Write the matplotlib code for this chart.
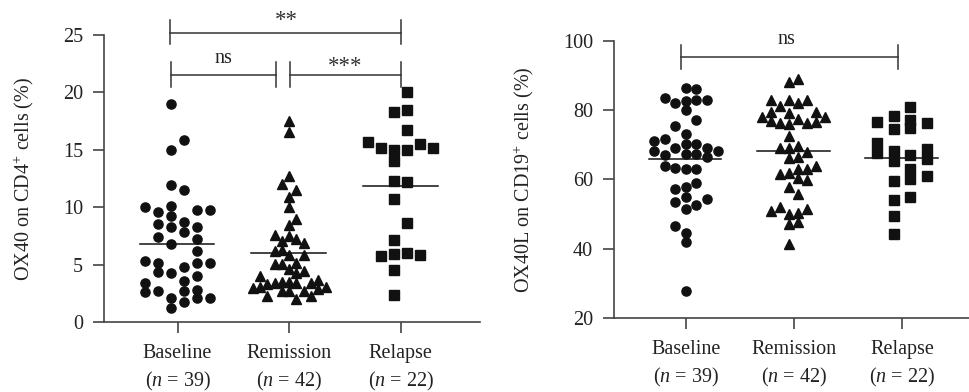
import numpy as np
import matplotlib
matplotlib.use("Agg")
import matplotlib.pyplot as plt

plt.rcParams['font.family'] = 'Liberation Serif'
plt.rcParams['mathtext.fontset'] = 'custom'
plt.rcParams['mathtext.rm'] = 'Liberation Serif'
plt.rcParams['mathtext.it'] = 'Liberation Serif:italic'

groups = ["Baseline", "Remission", "Relapse"]
group_n = [39, 42, 22]

# OX40 on CD4+ cells (%)
ox40_baseline = [19.0, 15.87, 14.97, 11.97, 11.5, 10.03, 10.08, 9.56, 9.73, 9.76,
                 9.27, 8.51, 8.31, 8.75, 7.85, 8.25, 7.38, 7.27, 6.8, 6.16,
                 5.32, 5.17, 5.14, 5.14, 4.77, 4.33, 4.3, 3.98, 3.57, 3.43,
                 2.62, 2.73, 2.7, 2.82, 2.06, 1.77, 2.06, 2.09, 1.19]
ox40_remission = [17.55, 16.6, 12.76, 12.0, 11.5, 10.93, 10.03, 9.01, 8.43, 7.61,
                  7.5, 7.09, 7.24, 6.86, 6.22, 6.28, 5.84, 5.84, 5.06, 5.06,
                  5.17, 4.62, 4.47, 4.24, 4.01, 3.0, 3.02, 3.28, 3.43, 3.52,
                  3.52, 3.37, 3.37, 3.66, 3.02, 2.85, 2.3, 2.7, 2.7, 2.7,
                  2.3, 2.0]
ox40_relapse = [20.03, 18.28, 18.45, 16.74, 15.69, 15.17, 15.0, 15.0, 15.49, 15.17,
                14.01, 12.32, 12.18, 10.7, 8.6, 7.15, 5.75, 5.9, 6.02, 5.81,
                4.53, 2.35]

# OX40L on CD19+ cells (%)
ox40l_baseline = [86.2, 86.0, 83.5, 81.9, 82.5, 82.9, 82.9, 79.9, 77.0, 75.4,
                  73.2, 71.7, 71.0, 70.2, 70.2, 68.9, 69.0, 68.1, 68.1, 67.0,
                  67.2, 67.2, 66.4, 63.9, 63.2, 63.0, 63.0, 59.0, 57.1, 57.8,
                  53.4, 55.0, 52.6, 54.4, 51.4, 46.5, 44.5, 41.9, 27.8]
ox40l_remission = [88.0, 88.85, 82.89, 82.89, 82.89, 81.26, 81.93, 79.52, 79.04, 79.33,
                   77.89, 77.31, 77.89, 76.83, 76.16, 75.87, 76.35, 76.54, 72.41, 69.14,
                   69.04, 69.71, 67.79, 66.25, 66.45, 63.85, 63.08, 62.89, 61.73, 61.45,
                   60.29, 59.81, 57.79, 55.77, 50.96, 52.02, 51.54, 49.9, 50.39, 47.02,
                   47.69, 41.44]
ox40l_relapse = [76.54, 70.39, 67.5, 78.27, 74.43, 68.08, 65.29, 59.43, 54.04, 49.33,
                 44.14, 80.78, 77.12, 74.72, 67.02, 62.89, 60.0, 54.9, 76.35, 68.66,
                 65.87, 60.87]

# swarm columns (layout only)
cols_l_base = [-1, 1, -1, -1, 1, -5, -1, -3, 3, 5, -1, -3, -1, 1, 1, 3, -3, 3, -1, 3,
               -5, -3, 3, 5, 1, -3, -1, 3, 1, -5, -5, -3, 1, 3, -1, 1, 3, 5, -1]
cols_l_rem = [0, 0, 0, -1, 1, 0, 0, 1, 0, -2, 0, -1, 1, 2, -2, -1, 0, 2, -2, -1,
              1, 0, 2, 1, -4, -5, -4, -3, -2, -1, 0, 1, 3, 4, 5, 4, -3, -1, 0, 2,
              3, 1]
cols_l_rel = [1, -1, 1, 1, -5, -3, -1, 1, 3, 5, -1, -1, 1, -1, 1, -1, -3, -1, 1, 3,
              -1, -1]
cols_r_base = [0, 1, -2, -1, 0, 1, 2, 0, 1, -1, 0, -2, -3, 0, 1, -1, 2, -3, 3, -2,
               0, 1, 2, -2, -1, 0, 1, 1, -1, 0, -1, 0, 1, 2, 0, -1, 0, 0, 0]
cols_r_rem = [-1, 1, -5, -1, 3, -3, 1, -5, -1, 5, -7, 1, 7, -5, -3, -1, 3, 5, -1, -3,
              -1, 1, 3, -1, 1, 5, 3, 1, -1, -3, 1, 3, -1, 1, -5, -3, 3, -1, 1, -1,
              1, -1]
cols_r_rel = [-3, -3, -3, -1, -1, -1, -1, -1, -1, -1, -1, 1, 1, 1, 1, 1, 1, 1, 3, 3,
              3, 3]

ink = "#111111"
axis_c = "#444444"
fs = 14.5


def style_axes(ax):
    for s in ["top", "right"]:
        ax.spines[s].set_visible(False)
    for s in ["left", "bottom"]:
        ax.spines[s].set_color(axis_c)
        ax.spines[s].set_linewidth(1.2)
    ax.tick_params(axis="both", colors=axis_c, width=1.2, length=8, labelsize=fs,
                   labelcolor="#222222")
    ax.tick_params(axis="y", pad=7)
    ax.tick_params(axis="x", pad=8)
    ax.set_xticks(range(3))
    ax.set_xticklabels([f"{g}\n($n$ = {n})" for g, n in zip(groups, group_n)],
                       linespacing=1.38)


def bracket(ax, x0, x1, y, y_lo, y_hi):
    kw = dict(color="#333333", lw=1.1, clip_on=False)
    ax.plot([x0, x1], [y, y], **kw)
    ax.plot([x0, x0], [y_lo, y_hi], **kw)
    ax.plot([x1, x1], [y_lo, y_hi], **kw)


fig = plt.figure(figsize=(9.69, 3.92), dpi=100)

# left panel
ax1 = fig.add_axes([0.1073, 0.1786, 0.388, 0.7318])
step1 = 0.0585
for i, (vals, cols, mk, ms) in enumerate([
        (ox40_baseline, cols_l_base, "o", 6.6),
        (ox40_remission, cols_l_rem, "^", 7.4),
        (ox40_relapse, cols_l_rel, "s", 6.6)]):
    c = np.array(cols, dtype=float)
    if mk == "^":
        xs = i + c * 2 * step1 * 0.56
    else:
        xs = i + c * step1
    ax1.plot(xs, vals, ls="none", marker=mk, ms=ms, color=ink, mec=ink)
    m = np.mean(vals)
    ax1.plot([i - 0.34, i + 0.33], [m, m], color=ink, lw=1.1)

ax1.set_xlim(-0.66, 2.71)
ax1.set_ylim(0, 25)
ax1.set_yticks([0, 5, 10, 15, 20, 25])
ax1.set_ylabel("OX40 on CD4$^{+}$ cells (%)", fontsize=fs, color="#222222")
ax1.yaxis.set_label_coords(-0.18, 0.5)
style_axes(ax1)

bracket(ax1, -0.07, 2.0, 25.2, 24.24, 26.33)
bracket(ax1, -0.063, 0.879, 21.56, 20.46, 22.64)
bracket(ax1, 1.004, 2.0, 21.56, 20.46, 22.64)
ax1.text(0.975, 25.8, "**", ha="center", va="baseline", fontsize=16.5, color="#333333")
ax1.text(0.41, 22.55, "ns", ha="center", va="baseline", fontsize=fs, color="#222222")
ax1.text(1.50, 21.8, "***", ha="center", va="baseline", fontsize=16.5, color="#333333")

# right panel
ax2 = fig.add_axes([0.6336, 0.1888, 0.3664, 0.7075])
for i, (vals, cols, mk, ms, st) in enumerate([
        (ox40l_baseline, cols_r_base, "o", 6.6, 0.098),
        (ox40l_remission, cols_r_rem, "^", 7.4, 0.0417),
        (ox40l_relapse, cols_r_rel, "s", 7.0, 0.077)]):
    xs = i + np.array(cols, dtype=float) * st
    ax2.plot(xs, vals, ls="none", marker=mk, ms=ms, color=ink, mec=ink)
    m = np.mean(vals)
    ax2.plot([i - 0.34, i + 0.33], [m, m], color=ink, lw=1.1)

ax2.set_xlim(-0.664, 2.62)
ax2.set_ylim(20, 100)
ax2.set_yticks([20, 40, 60, 80, 100])
ax2.set_ylabel("OX40L on CD19$^{+}$ cells (%)", fontsize=fs, color="#222222")
ax2.yaxis.set_label_coords(-0.22, 0.5)
style_axes(ax2)

bracket(ax2, -0.04, 1.96, 95.38, 91.75, 98.76)
ax2.text(0.93, 99.05, "ns", ha="center", va="baseline", fontsize=fs, color="#222222")

fig.savefig("out.png", dpi=100)
